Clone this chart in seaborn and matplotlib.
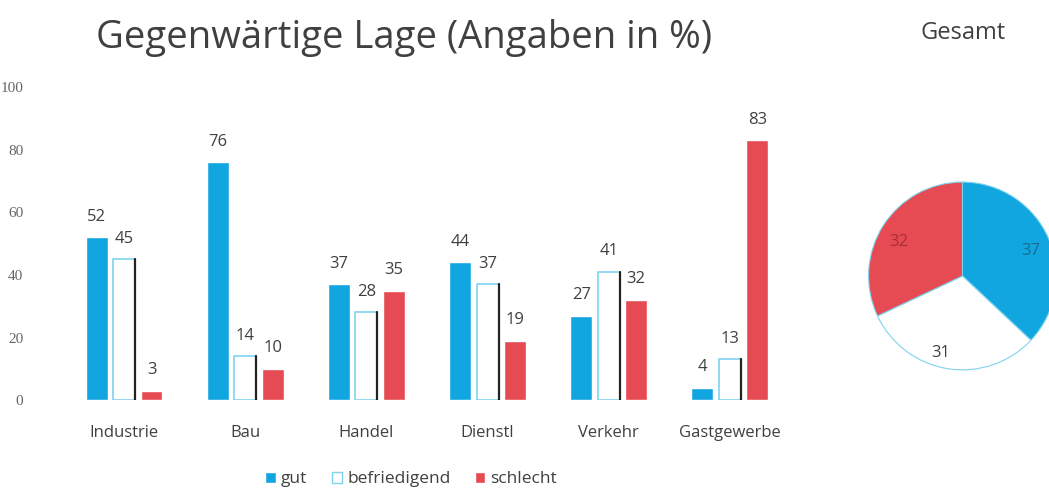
import matplotlib
matplotlib.use('Agg')
import matplotlib.pyplot as plt
import pandas as pd
import seaborn as sns

branchen = ['Industrie', 'Bau', 'Handel', 'Dienstl', 'Verkehr', 'Gastgewerbe']
gut = [52, 76, 37, 44, 27, 4]
befriedigend = [45, 14, 28, 37, 41, 13]
schlecht = [3, 10, 35, 19, 32, 83]
gesamt_labels = ['gut', 'befriedigend', 'schlecht']
gesamt = [37, 31, 32]

blau = '#12a6e0'
hellblau = '#7fd3ee'
rot = '#e64a52'
grau = '#404040'

df = pd.DataFrame({
    'Branche': branchen * 3,
    'Lage': ['gut'] * 6 + ['befriedigend'] * 6 + ['schlecht'] * 6,
    'Wert': gut + befriedigend + schlecht,
})

sns.set_style('white')
plt.rcParams['font.family'] = ['Open Sans', 'DejaVu Sans']

fig = plt.figure(figsize=(10.49, 4.88), dpi=100)
ax = fig.add_axes([0.0605, 0.18, 0.693, 0.642])

sns.barplot(data=df, x='Branche', y='Wert', hue='Lage',
            palette={'gut': blau, 'befriedigend': 'white', 'schlecht': rot},
            saturation=1, width=0.68, gap=0.2, ax=ax, legend=False)

# white bars get a thin cyan outline and a dark right edge
for p in ax.containers[1]:
    p.set_edgecolor(hellblau)
    p.set_linewidth(1.2)
    x = p.get_x() + p.get_width()
    ax.plot([x, x], [0, p.get_height()], color='#222222', lw=1.6)

for c in ax.containers:
    ax.bar_label(c, padding=9, fontsize=12, color=grau)

ax.set_xlim(-0.5, len(branchen) - 0.5)
ax.set_ylim(0, 100)
ax.set_yticks([0, 20, 40, 60, 80, 100])
ax.set_xlabel('')
ax.set_ylabel('')
sns.despine(ax=ax, left=True, bottom=True)
ax.tick_params(axis='y', labelsize=11, labelcolor='#666666', pad=29, length=0)
for t in ax.get_yticklabels():
    t.set_family('Liberation Serif')
ax.tick_params(axis='x', labelsize=12, labelcolor=grau, pad=18, length=0)

handles = [plt.Rectangle((0, 0), 1, 1, fc=blau),
           plt.Rectangle((0, 0), 1, 1, fc='white', ec=hellblau),
           plt.Rectangle((0, 0), 1, 1, fc=rot)]
fig.legend(handles, gesamt_labels, loc='center', bbox_to_anchor=(0.392, 0.018),
           ncol=3, frameon=False, fontsize=12.5, handlelength=0.6,
           handleheight=0.6, handletextpad=0.3, columnspacing=1.4,
           labelcolor=grau)

fig.text(0.385, 0.922, 'Gegenwärtige Lage (Angaben in %)', fontsize=27.5,
         color=grau, ha='center', va='center')
fig.text(0.918, 0.932, 'Gesamt', fontsize=17, color=grau,
         ha='center', va='center')

# pie
pax = fig.add_axes([0.828, 0.242, 0.179, 0.385])
wedges, texts = pax.pie(gesamt, labels=[str(v) for v in gesamt],
                        colors=[blau, 'white', rot], startangle=90,
                        counterclock=False, labeldistance=0.68,
                        wedgeprops={'edgecolor': hellblau, 'linewidth': 0.8},
                        textprops={'fontsize': 12, 'color': grau})
texts[1].set_position((texts[1].get_position()[0] * 1.22,
                       texts[1].get_position()[1] * 1.22))
texts[2].set_color('#a83038')
texts[0].set_color('#1a6a8a')
pax.set_xlim(-1, 1)
pax.set_ylim(-1, 1)

fig.savefig('out.png', dpi=100)
